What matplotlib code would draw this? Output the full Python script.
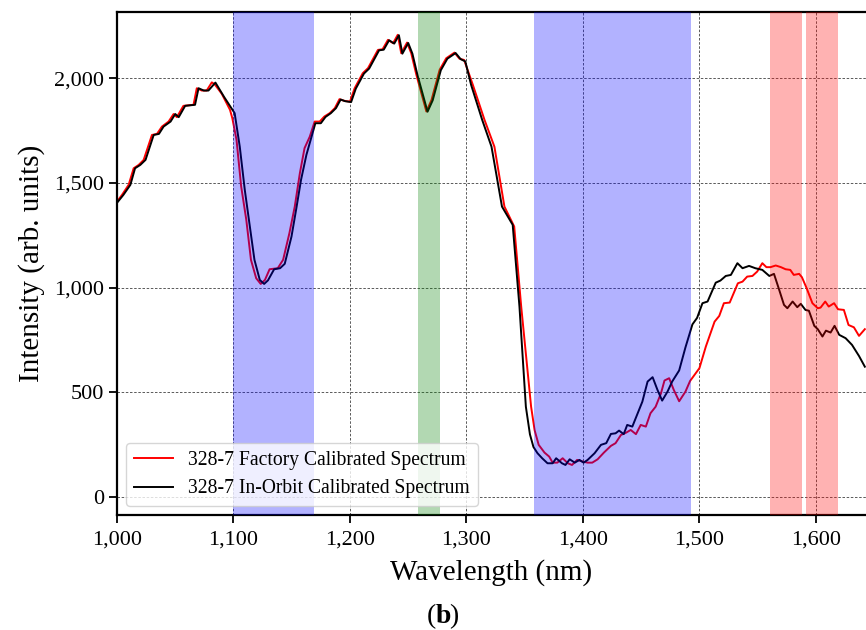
import numpy as np
import matplotlib
matplotlib.use('Agg')
import matplotlib.pyplot as plt
from matplotlib.ticker import FuncFormatter

plt.rcParams['font.family'] = ['Liberation Serif', 'DejaVu Serif']

# Factory calibrated spectrum (red)
factory_wl = [1000, 1004.3, 1010, 1014.3, 1018.6, 1022.9, 1030, 1034.3, 1038.6, 1044.3,
              1048.6, 1051.4, 1057, 1065.7, 1068.5, 1072.8, 1077, 1081.4, 1084, 1090,
              1097, 1099, 1102.6, 1106.6, 1111, 1115, 1119.5, 1123.4, 1127, 1131,
              1138, 1142.6, 1148, 1152.6, 1157, 1161, 1165.5, 1169.7, 1174, 1178,
              1182.6, 1187, 1191, 1195, 1200, 1204, 1211, 1215.5, 1224, 1228,
              1232.6, 1237, 1241, 1244, 1249, 1252.6, 1257, 1265.6, 1270, 1277,
              1282.6, 1289.7, 1294, 1298, 1305.5, 1315.5, 1324, 1332.6, 1341, 1347,
              1355.5, 1358.5, 1362, 1367, 1371, 1374, 1378, 1382.6, 1387, 1390.6,
              1395, 1400, 1404, 1408, 1412.6, 1418, 1424, 1428, 1432.6, 1437,
              1441, 1445.5, 1449.6, 1454, 1458, 1462.4, 1467, 1470, 1474, 1478,
              1482.6, 1488, 1492, 1500, 1505.5, 1513, 1517, 1521, 1526, 1533,
              1537, 1541, 1545.5, 1549.6, 1554, 1557.5, 1561, 1565.5, 1570, 1574,
              1578, 1581, 1585.6, 1588, 1592, 1597, 1601.6, 1604, 1608, 1611,
              1615.6, 1619, 1624, 1628, 1632.6, 1637, 1642]
factory_int = [1411, 1443, 1491, 1570, 1586, 1610, 1729, 1734, 1769, 1793,
               1829, 1814, 1868, 1873, 1952, 1941, 1941, 1980, 1970, 1925,
               1849, 1809, 1706, 1483, 1324, 1133, 1045, 1018, 1037, 1088,
               1093, 1133, 1260, 1387, 1547, 1666, 1721, 1793, 1793, 1817,
               1833, 1857, 1900, 1892, 1888, 1952, 2024, 2048, 2135, 2138,
               2183, 2167, 2207, 2119, 2170, 2119, 2016, 1841, 1896, 2040,
               2095, 2122, 2093, 2087, 1968, 1801, 1673, 1387, 1292, 910,
               432, 320, 250, 213, 194, 165, 165, 186, 162, 154,
               178, 170, 165, 165, 181, 213, 245, 258, 297, 308,
               321, 301, 345, 337, 401, 432, 496, 557, 568, 512,
               458, 504, 555, 616, 719, 838, 865, 926, 929, 1021,
               1029, 1053, 1056, 1077, 1117, 1098, 1098, 1106, 1098, 1088,
               1085, 1061, 1066, 1050, 998, 926, 902, 905, 934, 910,
               926, 897, 894, 822, 811, 770, 802]

# In-orbit calibrated spectrum (black)
orbit_wl = [1000, 1005.5, 1011.5, 1015.5, 1020, 1024.5, 1031.5, 1036, 1040, 1046,
            1050, 1053, 1058.5, 1067, 1070, 1074.5, 1078.5, 1084.5, 1092, 1101,
            1105.4, 1109.7, 1114, 1118, 1122.6, 1126.3, 1129.6, 1134.9, 1140, 1144,
            1149.8, 1154, 1158, 1162.6, 1166.3, 1170.3, 1175, 1179, 1183.6, 1188,
            1192, 1196, 1201, 1205, 1212, 1216.5, 1225, 1229, 1233.6, 1238,
            1242, 1245, 1250, 1253.6, 1258, 1266.6, 1271, 1278, 1283.6, 1290.7,
            1295, 1299, 1304, 1313.5, 1321.5, 1330.5, 1339.7, 1345.5, 1351, 1354.5,
            1357.5, 1361, 1365, 1369.6, 1374, 1377, 1382, 1385, 1388.6, 1393,
            1397, 1400.6, 1404, 1410, 1415.5, 1420, 1424, 1428, 1431, 1435,
            1438, 1442.4, 1447, 1451, 1455.5, 1459.8, 1464, 1468, 1472.6, 1476.6,
            1482.6, 1488, 1494, 1498, 1502.6, 1507, 1514, 1518, 1522.6, 1527,
            1532.6, 1537, 1542.6, 1548, 1554, 1560, 1564, 1568, 1572.6, 1575.5,
            1580, 1584, 1587, 1591, 1594, 1598.6, 1601.6, 1605.6, 1608.6, 1612.6,
            1616, 1620, 1625.5, 1631, 1637, 1642]
orbit_int = [1405, 1443, 1491, 1570, 1586, 1610, 1729, 1734, 1769, 1793,
             1829, 1814, 1868, 1873, 1952, 1941, 1941, 1979, 1910, 1833,
             1673, 1467, 1292, 1133, 1037, 1018, 1035, 1088, 1093, 1114,
             1244, 1380, 1515, 1634, 1706, 1785, 1785, 1815, 1833, 1857,
             1898, 1890, 1886, 1950, 2022, 2046, 2133, 2136, 2181, 2165,
             2205, 2117, 2168, 2117, 2014, 1840, 1894, 2038, 2093, 2120,
             2091, 2080, 1968, 1801, 1673, 1387, 1300, 910, 432, 300,
             240, 210, 186, 162, 162, 186, 162, 154, 181, 165,
             178, 165, 178, 210, 250, 258, 302, 305, 318, 301,
             345, 337, 401, 456, 552, 573, 512, 461, 504, 552,
             605, 715, 825, 856, 926, 934, 1024, 1034, 1056, 1061,
             1117, 1093, 1104, 1093, 1085, 1056, 1066, 998, 918, 902,
             934, 907, 923, 894, 890, 818, 802, 767, 795, 786,
             818, 775, 759, 727, 674, 623]

# Shaded absorption bands (start, end, colour)
band_start = [1100, 1358, 1258, 1561, 1591.5]
band_end = [1169, 1493, 1277, 1588, 1618.6]
band_color = ['blue', 'blue', 'green', 'red', 'red']

fig = plt.figure(figsize=(8.66, 6.3), dpi=100)
ax = fig.add_axes([0.1351, 0.1825, 0.8649, 0.7985])

ax.plot(factory_wl, factory_int, color='red', lw=1.4,
        label='328-7 Factory Calibrated Spectrum')
ax.plot(orbit_wl, orbit_int, color='black', lw=1.4,
        label='328-7 In-Orbit Calibrated Spectrum')

for s, e, c in zip(band_start, band_end, band_color):
    ax.axvspan(s, e, color=c, alpha=0.3, lw=0, zorder=3)

ax.set_xlim(1000, 1643)
ax.set_ylim(-85, 2316)
ax.set_xticks([1000, 1100, 1200, 1300, 1400, 1500, 1600])
ax.set_yticks([0, 500, 1000, 1500, 2000])
fmt = FuncFormatter(lambda v, p: f'{int(v):,}')
ax.xaxis.set_major_formatter(fmt)
ax.yaxis.set_major_formatter(fmt)
ax.grid(True, color='0.25', linestyle=(0, (3, 2)), lw=0.6)
ax.set_axisbelow(True)

for sp in ['left', 'bottom', 'top']:
    ax.spines[sp].set_linewidth(1.6)
ax.spines['right'].set_visible(False)
ax.tick_params(axis='both', labelsize=16, length=6, width=1.3)
ax.tick_params(axis='x', pad=5)

ax.set_xlabel('Wavelength (nm)', fontsize=21, labelpad=7)
ax.set_ylabel('Intensity (arb. units)', fontsize=21, labelpad=6)

leg = ax.legend(loc='lower left', fontsize=14.1, framealpha=0.8,
                bbox_to_anchor=(0.0, 0.0), borderaxespad=0.45)
leg.set_zorder(5)

fig.text(0.503, 0.022, '(', fontsize=20, ha='right', va='center')
fig.text(0.503, 0.022, 'b', fontsize=20, ha='left', va='center', fontweight='bold')
fig.text(0.519, 0.022, ')', fontsize=20, ha='left', va='center')

fig.savefig('out.png', dpi=100)
